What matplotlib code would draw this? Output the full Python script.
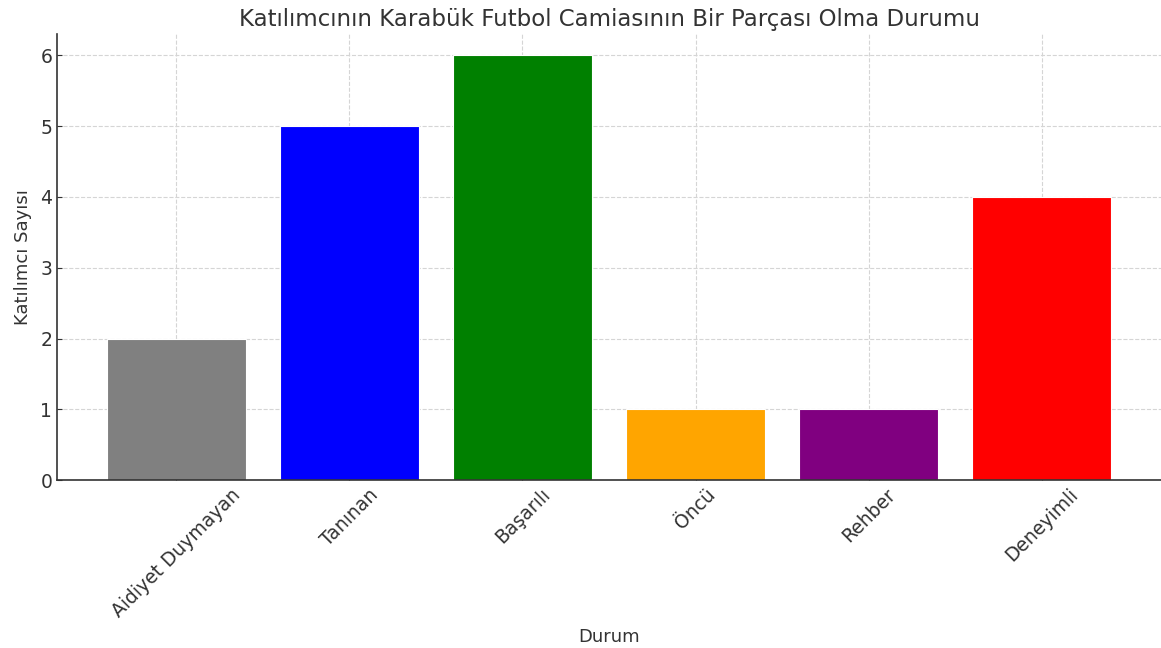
import matplotlib
matplotlib.use("Agg")
import matplotlib.pyplot as plt

categories = ["Aidiyet Duymayan", "Tanınan", "Başarılı", "Öncü", "Rehber", "Deneyimli"]
counts = [2, 5, 6, 1, 1, 4]
colors = ["gray", "blue", "green", "orange", "purple", "red"]

txt = "#333333"
plt.rcParams["text.color"] = txt
plt.rcParams["axes.labelcolor"] = txt
plt.rcParams["xtick.color"] = txt
plt.rcParams["ytick.color"] = txt

fig = plt.figure(figsize=(11.61, 6.48), dpi=100)
ax = fig.add_axes([0.0491, 0.259, 0.9509, 0.6885])

ax.bar(categories, counts, color=colors, edgecolor="white", linewidth=0.8, zorder=2)
ax.set_title("Katılımcının Karabük Futbol Camiasının Bir Parçası Olma Durumu", fontsize=16.5, pad=6)
ax.set_xlabel("Durum", fontsize=13, labelpad=5)
ax.set_ylabel("Katılımcı Sayısı", fontsize=13, labelpad=6)
ax.tick_params(axis="both", direction="in", labelsize=13.5)
plt.setp(ax.get_xticklabels(), rotation=45)

ax.grid(True, linestyle="--", color="#d5d5d5", linewidth=0.8, zorder=0)
for s in ["top", "right"]:
    ax.spines[s].set_visible(False)
for s in ["left", "bottom"]:
    ax.spines[s].set_color(txt)
    ax.spines[s].set_linewidth(1.2)

fig.savefig("out.png", dpi=100)
